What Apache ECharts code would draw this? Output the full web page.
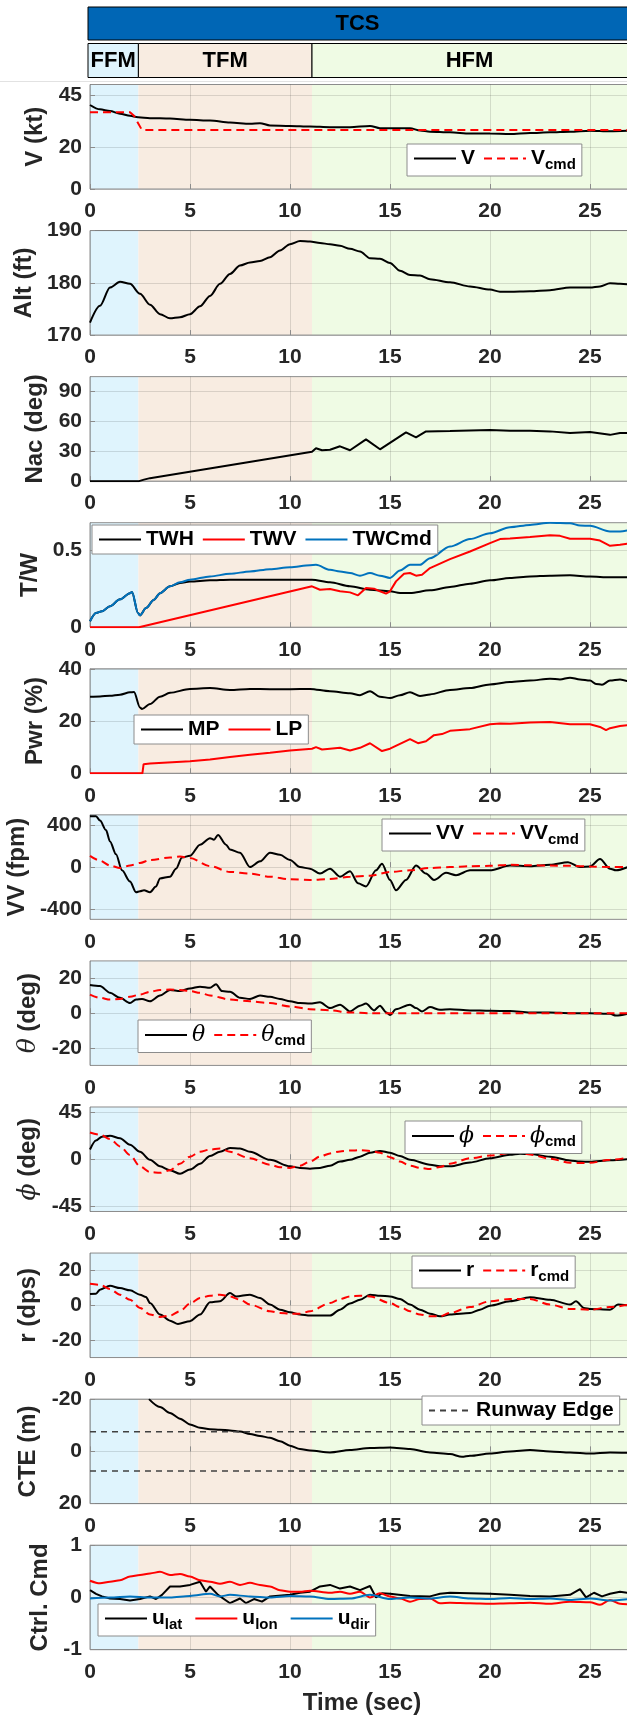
<!DOCTYPE html>
<html>
<head>
<meta charset="utf-8">
<script src="https://cdn.jsdelivr.net/npm/echarts@6.0.0/dist/echarts.min.js"></script>
<style>
  html, body { margin: 0; padding: 0; background: #fff; }
  #main { width: 627px; height: 1716px; }
</style>
</head>
<body>
<div id="main"></div>
<script>
// flight phases (sec)
const phaseNames = ['FFM', 'TFM', 'HFM'];
const phaseEdges = [0, 2.42, 11.1, 30];
const phaseColors = ['#dff4fd', '#f8ece1', '#effbe4'];

// [time, value] samples
const V = [[0,40.2],[0.5,38.1],[1,37.3],[1.5,36],[2,35],[2.4,34.3],[3,33.9],[4,33.7],[5,33.1],[6,32.8],[7,31.8],[8,31.2],[8.5,31.5],[9,30.4],[10,30.2],[11,29.9],[12,29.6],[13,29.6],[14,30.2],[14.5,29.1],[15,29.1],[16,29.1],[16.5,28],[17,27.4],[18,27.1],[19,26.6],[20,26.5],[21,26.3],[22,26.8],[23,27.1],[24,27.4],[25,27.9],[26,27.6],[27,27.9]];
const Vcmd = [[0,36.7],[2,36.7],[2.2,35],[2.6,28.2],[30,28.2]];

const Alt = [[0,172.4],[0.5,175.6],[1,179.1],[1.5,180.2],[2,179.8],[2.5,177.9],[3,175.8],[3.5,174],[4,173.2],[4.5,173.4],[5,174],[5.5,175.5],[6,177.5],[6.5,179.8],[7,181.7],[7.5,183.3],[8,183.9],[8.5,184.2],[9,184.9],[9.5,186.2],[10,187.4],[10.5,188],[11,187.9],[11.5,187.6],[12,187.4],[12.5,187.1],[13,186.5],[13.5,186],[14,184.7],[14.5,184.6],[15,183.8],[15.5,182.3],[16,181.5],[16.5,181.4],[17,180.7],[18,180.1],[19,179.3],[20,178.7],[20.5,178.3],[21,178.3],[22,178.4],[23,178.6],[24,179.1],[25,179.1],[25.5,179.3],[26,179.9],[26.5,179.8],[27,179.7]];

const Nac = [[0,0],[2.45,0],[2.7,1.5],[3,3],[11.1,29.5],[11.3,33],[11.6,31],[12,31.5],[12.5,35],[13,31],[13.8,42],[14.5,32],[15.8,49],[16.3,44],[16.8,50],[18,50.5],[20,51.5],[21,50.7],[22,50.7],[23,50],[24,48.4],[25,49.4],[26,46.5],[26.5,48.4],[27,48.4]];

const TWH = [[0,0.039],[0.3,0.092],[0.6,0.103],[1,0.135],[1.5,0.18],[2,0.22],[2.1,0.227],[2.4,0.092],[2.5,0.077],[2.8,0.124],[3.2,0.178],[3.5,0.22],[4,0.264],[4.5,0.285],[5,0.295],[6,0.303],[7,0.307],[11.1,0.307],[12,0.29],[13,0.264],[14,0.242],[15,0.232],[15.5,0.221],[16,0.221],[17,0.238],[18,0.26],[19,0.281],[20,0.303],[21,0.318],[22,0.328],[23,0.333],[24,0.335],[25,0.328],[26,0.322],[27,0.322]];
const TWV = [[0,0],[2.45,0],[11.1,0.264],[11.5,0.242],[12,0.247],[12.5,0.232],[13,0.225],[13.4,0.206],[13.8,0.253],[14.2,0.249],[14.5,0.232],[14.8,0.217],[15,0.232],[15.3,0.296],[15.7,0.345],[16,0.35],[16.3,0.333],[16.6,0.339],[17,0.382],[18,0.44],[19,0.489],[20,0.543],[20.5,0.569],[21,0.573],[22,0.582],[23,0.594],[23.5,0.59],[24,0.571],[25,0.571],[25.5,0.56],[26,0.526],[26.5,0.532],[27,0.543]];
const TWCmd = [[0,0.039],[0.3,0.092],[0.6,0.103],[1,0.135],[1.5,0.18],[2,0.22],[2.1,0.227],[2.4,0.092],[2.5,0.077],[2.8,0.124],[3.2,0.178],[3.5,0.22],[4,0.264],[4.5,0.29],[5,0.307],[6,0.328],[7,0.345],[8,0.36],[9,0.375],[10,0.388],[11,0.401],[11.3,0.403],[12,0.371],[12.5,0.36],[13,0.35],[13.5,0.333],[14,0.35],[14.5,0.333],[15,0.318],[15.5,0.367],[16,0.403],[16.5,0.403],[17,0.446],[18,0.521],[19,0.569],[20,0.607],[21,0.646],[22,0.661],[23,0.675],[24,0.672],[24.5,0.657],[25,0.655],[26,0.618],[26.5,0.618],[27,0.629]];

const MP = [[0,29.3],[0.5,29.4],[1,29.7],[1.5,30.1],[2,31],[2.2,31.1],[2.5,25.2],[2.6,24.6],[3,26.5],[3.5,29.3],[4,30.8],[5,32.3],[6,32.6],[7,31.9],[8,32.3],[9,32.2],[10,32.2],[11,32.3],[12,31.4],[13,30.6],[13.5,29.9],[14,31.4],[14.5,29.3],[15,28.8],[15.5,29.9],[16,31],[16.5,29.6],[17,30.2],[18,31.9],[19,32.6],[20,34],[21,34.9],[22,35.5],[23,36.2],[23.5,35.9],[24,36.6],[24.5,35.9],[25,35.5],[25.3,34.2],[25.6,33.9],[26,35.5],[26.5,35.9],[27,34.9]];
const LP = [[0,0],[2.62,0],[2.68,3.5],[3,3.75],[5,4.6],[6,5.25],[7,6.25],[8,7.1],[9,7.9],[10,8.75],[11.1,9.4],[11.3,10],[11.6,9.1],[12,9.4],[12.5,9.75],[13,8.75],[13.5,9.75],[14,11.5],[14.6,8.5],[15,9.4],[15.5,11.25],[16,13.1],[16.4,11.5],[16.8,12.25],[17.2,14.6],[17.6,15],[18,16.25],[19,16.9],[20,18.75],[20.5,19.1],[21,19],[22,19.4],[23,19.6],[24,18.75],[25,18.75],[25.5,17.75],[25.8,16.5],[26,17.25],[26.5,18.1],[27,18.5]];

const VV = [[0,486],[0.3,486],[0.5,446],[0.8,354],[1,246],[1.3,123],[1.6,-31],[2,-138],[2.3,-240],[2.5,-231],[2.7,-222],[3,-240],[3.3,-185],[3.5,-108],[4,-92],[4.3,-15],[4.6,92],[5,108],[5.5,215],[6,277],[6.2,262],[6.4,308],[6.8,215],[7,169],[7.5,138],[8,0],[8.5,55],[9,138],[9.5,117],[10,68],[10.5,0],[11,-15],[11.5,-62],[12,-15],[12.5,-92],[13,-40],[13.4,-154],[13.8,-185],[14.3,-31],[14.6,31],[15,-123],[15.3,-222],[15.8,-123],[16.3,15],[16.8,-62],[17.2,-123],[17.8,-55],[18.3,-77],[19,-31],[20,-31],[21,15],[22,9],[23,22],[23.9,46],[24.5,0],[25,6],[25.5,77],[26,-15],[26.3,-31],[27,9]];
const VVcmd = [[0,108],[0.5,62],[1,15],[1.5,-9],[2,15],[2.5,40],[3,68],[4,92],[4.5,101],[5,86],[6,9],[7,-46],[8,-62],[9,-92],[10,-117],[11,-123],[12,-114],[13,-92],[14,-83],[15,-46],[16,-31],[17,-9],[18,0],[19,9],[20,12],[21,22],[22,18],[23,15],[24,12],[25,6],[26,0],[27,0]];

const theta = [[0,16.2],[0.5,15.6],[1,11.7],[1.5,8.8],[2,5.8],[2.3,7.8],[2.6,8.2],[3,6.8],[3.5,10.1],[4,13.3],[4.5,12.7],[5,14.2],[5.5,15.2],[6,14.6],[6.3,16.6],[6.6,12.7],[7,12.3],[7.5,8.8],[8,8.2],[8.5,10.1],[9,9.4],[9.5,8.2],[10,6.8],[10.5,5.8],[11,5.5],[11.5,6.2],[12,2.9],[12.5,4.9],[13,1],[13.5,4.3],[13.8,5.5],[14.2,1.6],[14.5,4.3],[14.8,0.6],[15,-1],[15.3,2.3],[16,4.9],[16.3,2.9],[16.6,1],[17,3.5],[17.5,1.9],[18,2.3],[19,1.6],[20,1.4],[21,1.2],[22,0.4],[23,0.4],[24,0],[25,0],[26,-0.4],[26.3,-1.4],[27,0]];
const thetaCmd = [[0,10.7],[0.5,8.8],[1,7.8],[1.5,8.2],[2,9.4],[2.5,10.7],[3,12.3],[3.5,13.3],[4,13.6],[4.5,13.3],[5,12.7],[5.5,11.7],[6,10.1],[7,7.8],[8,6.8],[9,5.8],[10,3.9],[11,2.3],[12,1.6],[13,0.4],[14,0],[27,0]];

const phi = [[0,9.3],[0.3,17.9],[0.6,21.6],[1,22.5],[1.5,20.1],[2,13.9],[2.5,7.1],[3,-0.6],[3.5,-6.8],[4,-10.5],[4.5,-13.9],[5,-9.9],[5.5,-4.3],[6,3.1],[6.5,7.1],[7,10.8],[7.5,10.2],[8,7.1],[9,-0.6],[10,-6.8],[10.5,-8.3],[11,-9],[11.5,-8.3],[12,-6.2],[12.5,-2.2],[13,-0.6],[13.5,2.5],[14,6.2],[14.5,8],[15,6.2],[15.5,3.1],[16,-0.6],[17,-5.2],[17.5,-6.8],[18,-6.8],[19,-3.1],[20,0.9],[21,4.3],[21.5,5.3],[22,4.9],[23,2.5],[24,-1.2],[24.5,-2.2],[25,-2.5],[26,-1],[27,0.3]];
const phiCmd = [[0,25.6],[0.5,23.5],[1,19.4],[1.5,12.3],[2,4],[2.5,-6.8],[3,-12.3],[3.5,-13],[4,-10.5],[4.5,-4.3],[5,2.5],[5.5,7.1],[6,9.3],[6.5,10.2],[7,7.1],[8,0.9],[9,-5.2],[9.5,-7.7],[10,-8.3],[10.5,-6.2],[11,-2.2],[11.5,2.5],[12,5.6],[12.5,7.5],[13,8.3],[13.5,8.6],[14,8],[14.5,6.2],[15,2],[15.5,-2.2],[16,-6.2],[16.5,-8.3],[17,-9.3],[17.5,-7.4],[18,-4.3],[19,0.9],[20,3.5],[21,6],[21.5,6.2],[22,4.5],[23,0.5],[24,-3.4],[24.5,-3.7],[25,-3.4],[26,-0.6],[27,1.9]];

const r = [[0,6.5],[0.3,6.7],[0.5,9],[1,11.2],[1.5,9.9],[2,8.6],[2.5,6.1],[2.8,4.8],[3,1.3],[3.5,-5.3],[4,-8.8],[4.4,-10.7],[5,-9.1],[5.5,-5.3],[6,1.7],[6.5,2.3],[7,7],[7.3,5.1],[8,6.1],[8.5,4.2],[9,0.4],[9.5,-2.5],[10,-4],[10.5,-5.3],[11,-5.9],[12,-5.9],[12.5,-2.5],[13,1],[13.5,3.2],[14,6.1],[14.5,5.5],[15,5.1],[15.5,3.6],[16,0.4],[16.5,-2.5],[17,-4.8],[17.5,-6.3],[18,-5.3],[19,-4.4],[19.5,-2.5],[20,-0.2],[21,2.3],[22,4.6],[23,3.2],[24,0.4],[24.3,2.3],[24.7,-1.5],[25,-2.1],[26,-2.5],[26.4,0.4],[27,-0.2]];
const rCmd = [[0,12.4],[0.5,11.8],[1,9.3],[1.5,6.1],[2,3.2],[2.5,-1.5],[3,-5.3],[3.5,-6.7],[4,-5.9],[4.5,-3.4],[5,1],[5.5,4.2],[6,5.5],[6.5,6.1],[7,5.1],[7.5,3.2],[8,0.4],[9,-3.4],[9.5,-4.4],[10,-4.8],[10.5,-4.8],[11,-3.4],[12,1.3],[12.5,3.6],[13,5.1],[13.5,5.5],[14,5.1],[15,1.3],[15.5,-1],[16,-3.4],[16.5,-5.3],[17,-6.3],[17.5,-6.3],[18,-4.4],[19,-1],[20,2.3],[21,3.6],[22,3.6],[23,0.4],[24,-2.1],[25,-2.5],[26,-1],[27,0.4]];

const CTE = [[2.95,-20],[3.5,-17],[4,-14.7],[4.5,-12.5],[5,-10.3],[5.5,-9],[6,-8.5],[6.5,-8.3],[7,-8],[7.5,-7.6],[8,-6.7],[8.5,-5.9],[9,-5.2],[9.5,-3.9],[10,-2.2],[10.5,-0.9],[11,-0.3],[12,0.4],[13,-0.5],[14,-1.3],[15,-1.5],[16,-0.9],[17,0.4],[18,1],[18.6,2.1],[19,1.7],[20,0.8],[21,0],[22,-0.5],[23,0],[24,0.4],[25,0.8],[26,0.4],[27,0.6]];
const runwayLeft = [[0,-7.5],[30,-7.5]];
const runwayRight = [[0,7.5],[30,7.5]];

const ulat = [[0,0.14],[0.3,0.07],[0.6,0.02],[1,-0.02],[1.5,-0.03],[2,-0.06],[2.5,-0.03],[3,0.02],[3.3,-0.03],[3.6,0.05],[4,0.21],[4.5,0.21],[5,0.24],[5.5,0.3],[5.8,0.11],[6,0.21],[6.4,0.05],[7,-0.11],[7.5,-0.02],[7.8,-0.11],[8.2,-0.03],[8.6,-0.08],[9,0.02],[10,0.05],[10.5,0.09],[11,0.11],[11.5,0.21],[12,0.24],[12.5,0.17],[13,0.21],[13.5,0.14],[14,0.22],[14.3,0],[14.6,0.08],[15,0.07],[16,0.03],[17,0.02],[17.5,0.07],[18,0.09],[19,0.08],[20,0.07],[21,0.05],[22,0.03],[23,0.02],[24,0.05],[24.5,0.16],[24.8,0],[25.2,0.09],[25.6,0.02],[26,0.07],[26.5,0.11],[27,0.08]];
const ulon = [[0,0.32],[0.5,0.27],[1,0.3],[1.5,0.33],[2,0.4],[2.5,0.43],[3,0.46],[3.5,0.49],[4,0.43],[4.5,0.45],[5,0.4],[5.5,0.33],[6,0.3],[6.5,0.26],[7,0.3],[7.5,0.24],[8,0.28],[8.5,0.24],[9,0.21],[9.5,0.14],[10,0.11],[10.5,0.11],[11,0.13],[12,0.09],[12.5,0.11],[13,0.07],[13.5,0.11],[14,0],[14.5,0.08],[15,0.02],[15.5,-0.02],[16,-0.08],[16.5,-0.03],[17,-0.02],[17.5,-0.11],[18,-0.1],[19,-0.11],[20,-0.12],[21,-0.11],[22,-0.1],[23,-0.12],[24,-0.08],[25,-0.09],[25.5,-0.14],[26,-0.05],[26.5,-0.12],[27,-0.14]];
const udir = [[0,-0.02],[1,0],[2,0.02],[3,0],[4,0],[5,0.03],[6,0.07],[6.5,0.02],[7,0.05],[8,0.02],[9,0],[10,0.03],[11,0.02],[12,-0.03],[13,-0.02],[14,0.05],[15,-0.03],[16,0],[17,-0.02],[18,0.02],[19,-0.02],[20,-0.03],[21,-0.01],[22,-0.03],[23,-0.02],[24,-0.05],[25,-0.02],[26,-0.06],[27,-0.03]];

const FONT = 'Liberation Sans';
const styles = {
  black:    { color: '#000000', type: 'solid', width: 2 },
  red:      { color: '#ff0000', type: 'solid', width: 2 },
  blue:     { color: '#0072bd', type: 'solid', width: 2 },
  reddash:  { color: '#ff0000', type: [8, 5], width: 2 },
  graydash: { color: '#404040', type: [6, 5], width: 1.5 }
};

// name, y range, ticks, name centre x, lines [name, data, style, smooth], legend
const panels = [
  { name: 'V (kt)', min: 0, max: 50, ticks: [0, 20, 45], nameX: 52,
    lines: [['V', V, 'black', true], ['V_cmd', Vcmd, 'reddash', false]],
    legend: { left: 407, top: 144, items: ['V', 'V_cmd'] } },
  { name: 'Alt (ft)', min: 170, max: 190, ticks: [170, 180, 190], nameX: 37,
    lines: [['Alt', Alt, 'black', true]] },
  { name: 'Nac (deg)', min: 0, max: 105, ticks: [0, 30, 60, 90], nameX: 50,
    lines: [['Nac', Nac, 'black', false]] },
  { name: 'T/W', min: 0, max: 0.675, ticks: [0, 0.5], nameX: 41,
    lines: [['TWH', TWH, 'black', true], ['TWV', TWV, 'red', false], ['TWCmd', TWCmd, 'blue', true]],
    legend: { left: 92, top: 525, items: ['TWH', 'TWV', 'TWCmd'] } },
  { name: 'Pwr (%)', min: 0, max: 40, ticks: [0, 20, 40], nameX: 48,
    lines: [['MP', MP, 'black', true], ['LP', LP, 'red', false]],
    legend: { left: 134, top: 715, items: ['MP', 'LP'] } },
  { name: 'VV (fpm)', min: -500, max: 500, ticks: [-400, 0, 400], nameX: 27,
    lines: [['VV', VV, 'black', true], ['VV_cmd', VVcmd, 'reddash', true]],
    legend: { left: 382, top: 819, items: ['VV', 'VV_cmd'] } },
  { name: '{g|θ} (deg)', min: -30, max: 30, ticks: [-20, 0, 20], nameX: 37,
    lines: [['θ', theta, 'black', true], ['θ_cmd', thetaCmd, 'reddash', true]],
    legend: { left: 138, top: 1020, items: ['θ', 'θ_cmd'] } },
  { name: '{g|ϕ} (deg)', min: -50, max: 50, ticks: [-45, 0, 45], nameX: 50,
    lines: [['ϕ', phi, 'black', true], ['ϕ_cmd', phiCmd, 'reddash', true]],
    legend: { left: 405, top: 1121, items: ['ϕ', 'ϕ_cmd'] } },
  { name: 'r (dps)', min: -30, max: 30, ticks: [-20, 0, 20], nameX: 39,
    lines: [['r', r, 'black', true], ['r_cmd', rCmd, 'reddash', true]],
    legend: { left: 412, top: 1256, items: ['r', 'r_cmd'] } },
  { name: 'CTE (m)', min: -20, max: 20, ticks: [-20, 0, 20], nameX: 38, inverse: true,
    lines: [['CTE', CTE, 'black', true], ['Runway Edge', runwayLeft, 'graydash', false], ['Runway Edge', runwayRight, 'graydash', false]],
    legend: { left: 422, top: 1396, items: ['Runway Edge'] } },
  { name: 'Ctrl. Cmd', min: -1, max: 1, ticks: [-1, 0, 1], nameX: 51,
    lines: [['u_lat', ulat, 'black', false], ['u_lon', ulon, 'red', true], ['u_dir', udir, 'blue', true]],
    legend: { left: 98, top: 1604, items: ['u_lat', 'u_lon', 'u_dir'], gap: 12 } }
];

const GRID_LEFT = 90, GRID_TOP0 = 84.5, GRID_STEP = 146.07, GRID_H = 104.5;
const NAME_SIZE = 24;
const LABEL_SIZE = 21;

const richText = {
  b: { fontSize: LABEL_SIZE, fontWeight: 'bold', fontFamily: FONT, color: '#000' },
  g: { fontSize: 22, fontStyle: 'italic', fontWeight: 'normal', fontFamily: 'DejaVu Serif', color: '#000' },
  s: { fontSize: 15, fontWeight: 'bold', fontFamily: FONT, color: '#000', padding: [12, 0, 0, 0] }
};

function legendLabel(name) {
  const k = name.indexOf('_');
  const base = k < 0 ? name : name.slice(0, k);
  const sub = k < 0 ? '' : name.slice(k + 1);
  const tag = /[θϕ]/.test(base) ? 'g' : 'b';
  return '{' + tag + '|' + base + '}' + (sub ? '{s|' + sub + '}' : '');
}

const grids = [], xAxes = [], yAxes = [], series = [], legends = [];

panels.forEach((p, i) => {
  grids.push({
    left: GRID_LEFT, right: -63, top: GRID_TOP0 + GRID_STEP * i, height: GRID_H,
    outerBoundsMode: 'none',
    show: true, borderColor: '#8c8c8c', borderWidth: 1, backgroundColor: 'transparent', z: 1
  });
  xAxes.push({
    gridIndex: i, type: 'value', min: 0, max: 30, interval: 5, z: 1,
    axisLine: { show: false },
    axisTick: { inside: true, length: 5, lineStyle: { color: '#8c8c8c' } },
    axisLabel: { margin: 12, fontSize: LABEL_SIZE, fontWeight: 'bold', color: '#262626', fontFamily: FONT },
    splitLine: { show: true, lineStyle: { color: 'rgba(0,0,0,0.12)' } }
  });
  yAxes.push({
    gridIndex: i, type: 'value', min: p.min, max: p.max, inverse: !!p.inverse, z: 1,
    name: p.name, nameLocation: 'middle', nameGap: 90 - p.nameX - 0.8 * NAME_SIZE,
    nameTextStyle: {
      fontSize: NAME_SIZE, fontWeight: 'bold', color: '#262626', fontFamily: FONT,
      rich: { g: { fontSize: 25, fontStyle: 'italic', fontWeight: 'normal', fontFamily: 'DejaVu Serif', color: '#262626' } }
    },
    axisLine: { show: false },
    axisTick: { inside: true, length: 5, customValues: p.ticks, lineStyle: { color: '#8c8c8c' } },
    axisLabel: { customValues: p.ticks, margin: 8, fontSize: LABEL_SIZE, fontWeight: 'bold', color: '#262626', fontFamily: FONT },
    splitLine: { show: true, lineStyle: { color: 'rgba(0,0,0,0.12)' } }
  });
  p.lines.forEach(([name, data, styleKey, smooth], k) => {
    const st = styles[styleKey];
    const s = {
      name: name, type: 'line', xAxisIndex: i, yAxisIndex: i, data: data,
      symbol: 'none', smooth: smooth ? 0.3 : false, smoothMonotone: 'x',
      lineStyle: { color: st.color, width: st.width, type: st.type },
      itemStyle: { color: st.color },
      z: 3
    };
    if (k === 0) {
      s.markArea = {
        silent: true, z: 0,
        data: phaseNames.map((ph, j) => [
          { xAxis: phaseEdges[j], itemStyle: { color: phaseColors[j] } },
          { xAxis: phaseEdges[j + 1] }
        ])
      };
    }
    series.push(s);
  });
  if (p.legend) {
    legends.push({
      left: p.legend.left, top: p.legend.top, orient: 'horizontal',
      data: p.legend.items, selectedMode: false,
      backgroundColor: '#fff', borderColor: '#8c8c8c', borderWidth: 1, borderRadius: 0,
      padding: [4, 6], itemWidth: 42, itemHeight: 12, itemGap: p.legend.gap || 8,
      itemStyle: { opacity: 0 },
      formatter: legendLabel,
      textStyle: { fontSize: LABEL_SIZE, fontWeight: 'bold', fontFamily: FONT, color: '#000', rich: richText }
    });
  }
});

const chart = echarts.init(document.getElementById('main'));
chart.setOption({
  animation: false,
  backgroundColor: '#fff',
  grid: grids,
  xAxis: xAxes,
  yAxis: yAxes,
  legend: legends,
  series: series
});

// phase header above the first plot, placed from the time axis
const px = t => chart.convertToPixel({ xAxisIndex: 0 }, t);
const edgesPx = [px(0) - 2, px(phaseEdges[1]), px(phaseEdges[2]), 700];
const header = [
  { type: 'line', shape: { x1: 0, y1: 81.5, x2: 627, y2: 81.5 }, style: { stroke: '#e2e2e2', lineWidth: 1 } },
  { type: 'rect', shape: { x: edgesPx[0], y: 7, width: 700 - edgesPx[0], height: 33 },
    style: { fill: '#0066b5', stroke: '#000', lineWidth: 1 } },
  { type: 'text', x: (edgesPx[0] + 627) / 2, y: 24,
    style: { text: 'TCS', fill: '#000', font: 'bold 22px "Liberation Sans"', align: 'center', verticalAlign: 'middle' } }
];
phaseNames.forEach((ph, j) => {
  const x0 = edgesPx[j], x1 = edgesPx[j + 1];
  header.push({ type: 'rect', shape: { x: x0, y: 43.5, width: x1 - x0, height: 34 },
    style: { fill: phaseColors[j], stroke: '#000', lineWidth: 1 } });
  header.push({ type: 'text', x: (x0 + Math.min(x1, 627)) / 2, y: 61,
    style: { text: ph, fill: '#000', font: 'bold 22px "Liberation Sans"', align: 'center', verticalAlign: 'middle' } });
});
header.push({ type: 'text', x: 362, y: 1703,
  style: { text: 'Time (sec)', fill: '#262626', font: 'bold 24px "Liberation Sans"', align: 'center', verticalAlign: 'middle' } });
chart.setOption({ graphic: header });
</script>
</body>
</html>
